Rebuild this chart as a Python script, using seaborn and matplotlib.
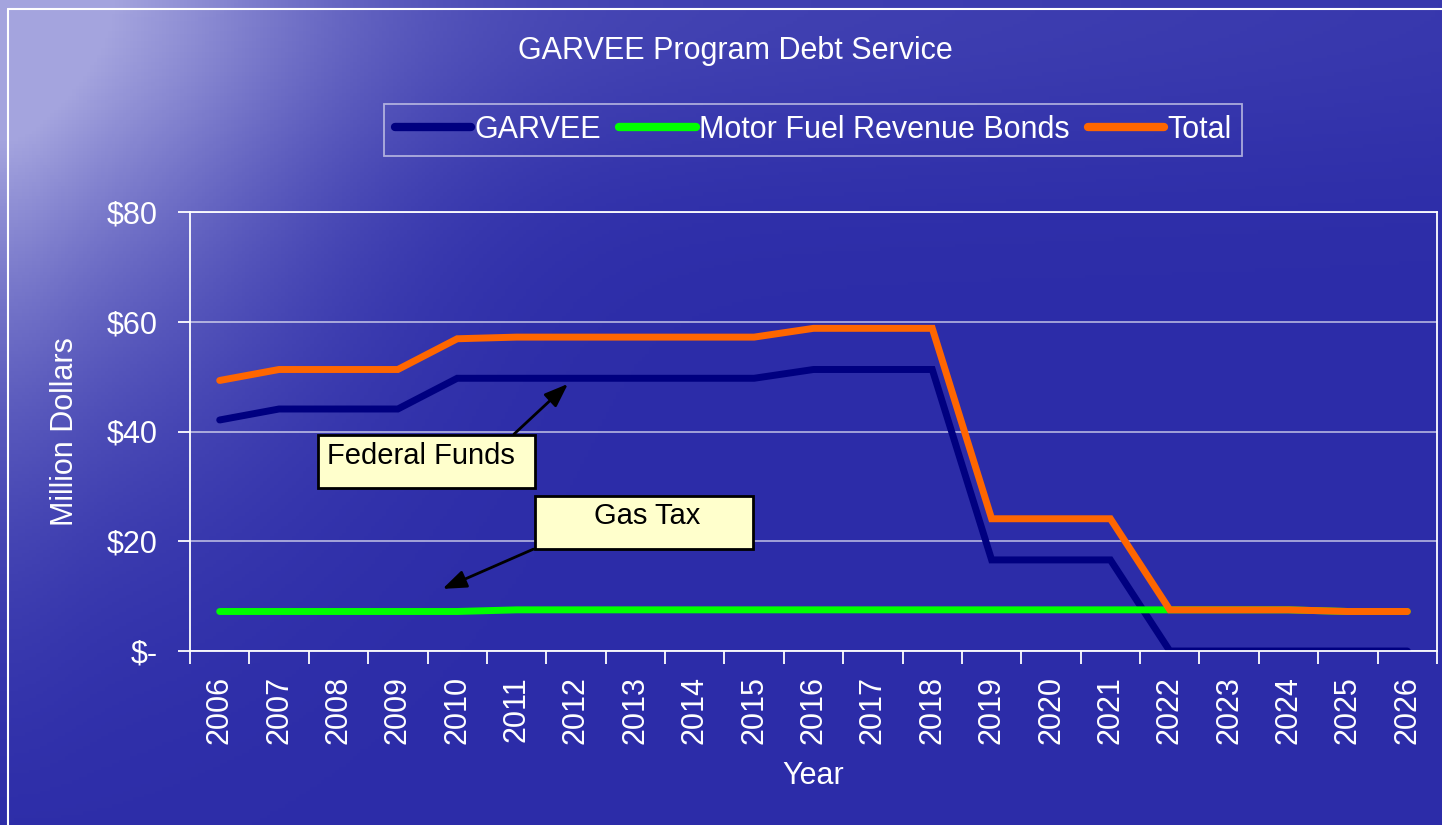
import numpy as np
import pandas as pd
import matplotlib
matplotlib.use("Agg")
import matplotlib.pyplot as plt
import seaborn as sns
from matplotlib.patches import Rectangle, FancyArrowPatch
from matplotlib.lines import Line2D

# =========================
# dados
# =========================
anos = list(range(2006, 2027))
garvee = [42.1, 44.1, 44.1, 44.1, 49.7, 49.7, 49.7, 49.7, 49.7, 49.7, 51.3,
          51.3, 51.3, 16.6, 16.6, 16.6, 0.0, 0.0, 0.0, 0.0, 0.0]
motor_fuel = [7.2, 7.2, 7.2, 7.2, 7.2, 7.5, 7.5, 7.5, 7.5, 7.5, 7.5,
              7.5, 7.5, 7.5, 7.5, 7.5, 7.5, 7.5, 7.5, 7.2, 7.2]
total = [49.3, 51.3, 51.3, 51.3, 56.9, 57.2, 57.2, 57.2, 57.2, 57.2, 58.8,
         58.8, 58.8, 24.1, 24.1, 24.1, 7.5, 7.5, 7.5, 7.2, 7.2]
series_nomes = ["GARVEE", "Motor Fuel Revenue Bonds", "Total"]
cores = {"GARVEE": "#000080", "Motor Fuel Revenue Bonds": "#00FF00", "Total": "#FF6600"}
y_ticks = [0, 20, 40, 60, 80]
y_labels = ["$-", "$20", "$40", "$60", "$80"]

df = pd.DataFrame({"Ano": anos * 3,
                   "Valor": garvee + motor_fuel + total,
                   "Serie": [s for s in series_nomes for _ in anos]})

# ----------------------------
# figura
# ----------------------------
sns.set_style("white")
plt.rcParams["font.family"] = ["Liberation Sans", "DejaVu Sans"]

W, H = 1442, 825
fig = plt.figure(figsize=(W / 100, H / 100), dpi=100)

# fundo azul (gradiente)
bg = fig.add_axes([0, 0, 1, 1], zorder=-10)
xx, yy = np.meshgrid(np.linspace(0, 1, 400), np.linspace(0, 1, 240))
f = 0.85 * np.exp(-((xx / 0.22) ** 2 + (yy / 0.5) ** 2))
f += 0.25 * np.exp(-(yy / 0.2) ** 2) * (1 - 0.6 * xx)
f += 0.15 * np.exp(-((xx / 0.05) ** 2)) * (1 - yy)
f = np.clip(f, 0, 1)[..., None]
base = np.array([0x2c, 0x2c, 0xa8]) / 255
light = np.array([0xa4, 0xa4, 0xde]) / 255
bg.imshow(base + (light - base) * f, aspect="auto", extent=[0, 1, 1, 0])
bg.set_xlim(0, 1)
bg.set_ylim(1, 0)
bg.axis("off")

# moldura externa
fig.add_artist(Line2D([8 / W, 8 / W], [0, 1 - 9 / H], color="white", lw=1.5, transform=fig.transFigure))
fig.add_artist(Line2D([8 / W, 1], [1 - 9 / H, 1 - 9 / H], color="white", lw=1.5, transform=fig.transFigure))

ax = fig.add_axes([190 / W, 1 - 651 / H, 1247 / W, 439 / H])
ax.patch.set_alpha(0)

sns.lineplot(data=df, x="Ano", y="Valor", hue="Serie", hue_order=series_nomes,
             palette=cores, linewidth=5, ax=ax, legend=True)
for ln in ax.get_lines():
    ln.set_solid_capstyle("round")
    ln.set_solid_joinstyle("miter")

ax.set_xlim(2005.5, 2026.5)
ax.set_ylim(0, 80)
ax.set_xticks(anos)
ax.set_xticklabels([str(a) for a in anos], rotation=90, color="white", fontsize=22)
ax.set_xticks(np.arange(2005.5, 2027, 1), minor=True)
ax.tick_params(axis="x", which="major", bottom=True, length=0, pad=18)
ax.tick_params(axis="x", which="minor", bottom=True, length=9, width=1.3,
               color="white", direction="out")
ax.set_yticks(y_ticks)
ax.set_yticklabels(y_labels, color="white", fontsize=22)
ax.tick_params(axis="y", left=True, length=9, width=1.3, color="white", pad=14,
               direction="out")
ax.yaxis.grid(True, color="white", alpha=0.6, lw=1.3)
ax.set_axisbelow(True)
for s in ax.spines.values():
    s.set_visible(True)
    s.set_color("white")
    s.set_linewidth(1.3)

ax.set_xlabel("Year", color="white", fontsize=22)
ax.set_ylabel("Million Dollars", color="white", fontsize=22)
ax.xaxis.set_label_coords(0.5, -0.25)
ax.yaxis.set_label_coords(-0.088, 0.5)

# legenda
handles, labels = ax.get_legend_handles_labels()
leg = fig.legend(handles, labels, loc="center", bbox_to_anchor=(813 / W, 1 - 130 / H),
                 ncol=3, fontsize=22, frameon=True, handlelength=2.5, handletextpad=0.1,
                 columnspacing=0.6, borderpad=0.35, fancybox=False)
ax.get_legend().remove()
leg.get_frame().set_facecolor("none")
leg.get_frame().set_edgecolor("#c8c8e8")
leg.get_frame().set_linewidth(1.3)
for t in leg.get_texts():
    t.set_color("white")
for ln in leg.get_lines():
    ln.set_linewidth(6)
    ln.set_solid_capstyle("round")

fig.text(735 / W, 1 - 51 / H, "GARVEE Program Debt Service", color="white",
         fontsize=22, ha="center", va="center")


# ----------------------------
# caixas de anotação
# ----------------------------
def caixa(x0, y0, x1, y1, texto, tx, ty, ha):
    fig.add_artist(Rectangle((x0 / W, 1 - y1 / H), (x1 - x0) / W, (y1 - y0) / H,
                             facecolor="#FFFFCC", edgecolor="black", lw=2,
                             transform=fig.transFigure, zorder=5))
    fig.text(tx / W, 1 - ty / H, texto, fontsize=21, color="black", ha=ha,
             va="center", zorder=6)


def seta(x0, y0, x1, y1):
    fig.add_artist(FancyArrowPatch(
        (x0 / W, 1 - y0 / H), (x1 / W, 1 - y1 / H), transform=fig.transFigure,
        arrowstyle="-|>,head_length=0.8,head_width=0.3", mutation_scale=18,
        color="black", lw=2, zorder=6))


seta(512, 436, 570, 382)
caixa(318, 435, 535, 488, "Federal Funds", 327, 456, "left")
seta(536, 548, 440, 590)
caixa(535, 496, 753, 549, "Gas Tax", 647, 516, "center")

fig.savefig("out.png", dpi=100)
